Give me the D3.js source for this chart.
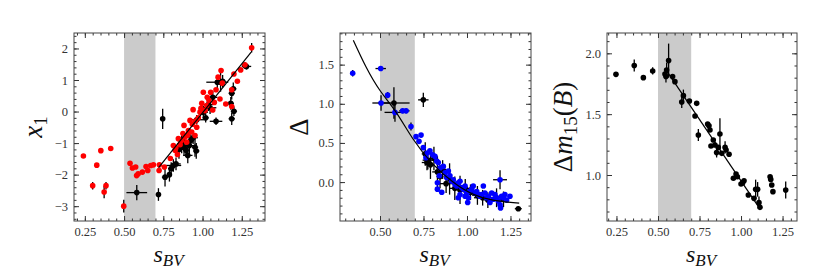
<!DOCTYPE html>
<html>
<head>
<meta charset="utf-8">
<script src="https://cdn.jsdelivr.net/npm/d3@7"></script>
<style>
  body { margin: 0; background: #fff; }
  svg text { font-family: "Liberation Serif", "Times New Roman", serif !important; }
  .tick text { font-size: 12.5px; fill: #333; }
  .tick line { stroke: #333; }
  .lab { fill: #111; }
</style>
</head>
<body>
<div id="chart"></div>
<script>
// panel 1: x1 vs sBV  [s, x1, ds, dx1]
var x1Red = [
  [0.241,-1.41],[0.30,-2.35,0,0.12],[0.326,-1.70],[0.352,-1.24],[0.373,-2.55,0,0.2],
  [0.385,-2.35,0,0.12],[0.415,-1.17],[0.498,-3.0,0,0.2],[0.538,-1.64],[0.553,-1.79],
  [0.574,-1.76],[0.58,-2.03],[0.59,-1.97],[0.617,-1.92],[0.64,-1.74],[0.651,-1.87],
  [0.67,-1.71],[0.687,-1.69],[0.725,-1.69],[0.723,-1.87],[0.757,-1.76],
  [0.795,-1.49],[0.814,-1.08],[0.825,-1.23],[0.84,-1.36],[0.846,-0.86],[0.857,-1.05],
  [0.882,-0.44],[0.889,-0.81],[0.899,-0.97],[0.91,-0.60],[0.92,-0.28],[0.931,-0.65],
  [0.94,0.06],[0.952,-0.76],[0.963,-0.50],[0.973,-0.20],[0.984,-0.02],[0.995,0.26],
  [1.005,0.61],[1.016,0.03],[1.027,0.19],[1.041,0.35],[1.052,0.61],[1.065,0.05],
  [1.075,0.29],[1.086,0.69],[1.099,1.09],[1.111,0.40],[1.118,1.30],[1.126,0.90],
  [1.148,0.24],[1.186,0.16],[1.186,0.69],[1.20,1.19],[1.222,0.96],[1.243,1.32],
  [1.27,1.48],[1.313,2.02,0.015,0.15],[0.83,-1.15],[0.865,-0.92],[0.875,-0.70],
  [0.905,-0.75],[0.935,-0.40],[0.955,-0.30],[0.99,0.10],[1.03,0.45]
];
var x1Black = [
  [0.581,-2.57,0.066,0.24],[0.719,-2.63,0.005,0.2],[0.746,-0.23,0.015,0.32],
  [0.761,-2.08,0.02,0.3],[0.789,-2.0,0.015,0.22],[0.80,-1.81,0.02,0.2],
  [0.814,-1.71,0.05,0.2],[0.831,-1.66,0.03,0.2],[0.85,-1.2,0.03,0.3],
  [0.867,-1.02,0.03,0.3],[0.875,-0.95,0.02,0.25],[0.882,-1.13,0.03,0.25],
  [0.895,-1.23,0.02,0.2],[0.906,-1.39,0.03,0.25],[0.916,-1.08,0.03,0.3],
  [0.925,-0.92,0.02,0.2],[0.94,-0.83,0.03,0.2],[0.952,-1.13,0.02,0.3],
  [0.96,-1.25,0.02,0.25],[0.963,-0.26,0.05,0.15],[1.005,-0.02,0.03,0.2],
  [1.02,-0.20,0.02,0.15],[1.037,0.22,0.03,0.2],[1.048,0.12,0.04,0.2],
  [1.065,0.45,0.03,0.2],[1.086,-0.31,0.04,0.12],[1.094,0.93,0.07,0.2],
  [1.115,0.93,0.02,0.3],[1.128,0.96,0.02,0.2],[1.18,0.26,0.02,0.2],
  [1.186,-0.23,0.02,0.2],[1.186,0.58,0.02,0.2],[1.196,0.72,0.02,0.2],
  [1.20,0.01,0.02,0.15],[1.27,1.46,0.02,0.1],[1.28,1.43,0.03,0.1]
];
var x1Fit = [[0.72,-1.78],[1.31,1.88]];

// panel 2: Delta vs sBV
var dBlue = [
  [0.343,1.39,0.01,0.04],[0.504,1.45,0.03,0.02],[0.544,1.11,0.01,0.04],[0.506,1.01,0.05,0.1],
  [0.586,0.89,0.06,0.12],[0.63,0.91,0.02,0.03],[0.65,0.91,0.02,0.03],[0.678,0.71,0.01,0.05],
  [0.707,0.58],[0.736,0.60],[0.724,0.52],[0.749,0.44],[0.764,0.31],[0.772,0.37],
  [0.787,0.40],[0.803,0.35],[0.816,0.33],[0.826,0.27],[0.835,0.25],[0.845,0.18],
  [0.864,0.20],[0.841,0.08],[0.874,0.12],[0.883,0.06],[0.893,0.14],[0.902,0.08],
  [0.912,0.01],[0.921,0.03],[0.931,-0.03],[0.941,-0.05],[0.95,-0.01],[0.96,0.01],
  [0.969,-0.07],[0.979,-0.09],[0.989,-0.05],[0.998,-0.14],[1.004,-0.26],[1.013,-0.12],
  [1.027,-0.09],[1.036,-0.05],[1.046,-0.14],[1.056,-0.12],[1.065,-0.16],[1.075,-0.18],
  [1.084,-0.16],[1.094,-0.05],[1.103,-0.14],[1.113,-0.20],[1.123,-0.18],[1.132,-0.26],
  [1.142,-0.14],[1.151,-0.22],[1.161,-0.16],[1.17,-0.20],[1.18,-0.24],[1.19,-0.29],
  [1.193,-0.33],[1.199,-0.18],[1.209,-0.20],[1.218,-0.16],[1.228,-0.23],[1.247,-0.18],
  [0.95,-0.20],[0.96,-0.16],[0.989,-0.18],[1.008,-0.20],[0.83,-0.01],[0.83,-0.09],
  [0.855,-0.13],[1.19,0.03,0.04,0.12]
];
var dBlack = [
  [0.58,1.01,0.09,0.2],[0.749,1.05,0.03,0.09],[0.76,0.36,0.02,0.15],[0.775,0.28,0.03,0.12],
  [0.79,0.22,0.02,0.18],[0.81,0.30,0.02,0.15],[0.83,0.13,0.03,0.2],[0.845,0.07,0.02,0.15],
  [0.86,0.16,0.02,0.12],[0.88,-0.02,0.04,0.12],[0.9,0.04,0.02,0.2],[0.93,-0.08,0.03,0.15],
  [0.96,-0.10,0.02,0.18],[0.99,-0.08,0.03,0.12],[1.02,-0.13,0.04,0.1],[1.06,-0.17,0.03,0.12],
  [1.09,-0.20,0.05,0.1],[1.12,-0.23,0.02,0.1],[1.17,-0.20,0.03,0.12],[1.21,-0.22,0.02,0.1],
  [1.295,-0.34,0.02,0.03],[0.77,0.25,0.03,0.1]
];
var dFit = [[0.347,1.81],[0.42,1.47],[0.5,1.17],[0.59,0.90],[0.69,0.55],[0.8,0.24],
  [0.92,0.0],[1.03,-0.15],[1.15,-0.23],[1.3,-0.27]];

// panel 3: dm15(B) vs sBV
var dmBlack = [
  [0.247,1.827],[0.357,1.90,0,0.05],[0.412,1.80],[0.468,1.855,0,0.03],[0.542,1.83],
  [0.552,1.863,0,0.06],[0.564,1.94,0,0.14],[0.548,1.81,0,0.05],[0.588,1.81],[0.602,1.767],
  [0.643,1.60,0,0.05],[0.653,1.652,0,0.05],[0.689,1.608],[0.733,1.589],[0.723,1.485],
  [0.743,1.329,0,0.05],[0.799,1.419],[0.807,1.405],[0.813,1.37],[0.819,1.238],
  [0.833,1.288],[0.843,1.247],[0.853,1.184,0,0.04],[0.873,1.337,0,0.13],[0.863,1.227],
  [0.884,1.178],[0.904,1.227,0,0.05],[0.91,1.205],[0.928,1.17],[0.954,0.973],
  [0.97,1.008],[0.978,0.986],[1.0,0.926],[1.01,0.937],[1.018,0.953],[1.044,0.836],
  [1.078,0.808],[1.088,0.882,0,0.08],[1.1,0.882,0,0.06],[1.108,0.773,0,0.05],
  [1.114,0.734],[1.175,0.986],[1.179,0.964],[1.185,0.918],[1.192,0.863],[1.269,0.877,0,0.07]
];
var dmFit = [[0.55,1.86],[1.115,0.72]];

var band = [0.5, 0.7];
var xTicks = [0.25, 0.5, 0.75, 1.0, 1.25];

var svg = d3.select("#chart").append("svg")
  .attr("width", 830).attr("height", 277);

function panel(opt) {
  var w = opt.w, h = 188;
  var g = svg.append("g").attr("transform", `translate(${opt.left},33)`);
  var x = d3.scaleLinear().domain(opt.xDom).range([0, w]);
  var y = d3.scaleLinear().domain(opt.yDom).range([h, 0]);

  g.append("rect")
    .attr("x", x(band[0])).attr("y", 0)
    .attr("width", x(band[1]) - x(band[0])).attr("height", h)
    .attr("fill", "#cbcbcb");

  var xMinor = d3.range(0.2, 1.45, 0.05).filter(v => v >= opt.xDom[0] && v <= opt.xDom[1]);
  var yMinor = d3.range(opt.yMinor[0], opt.yMinor[1], opt.yMinor[2]).filter(v => v >= opt.yDom[0] && v <= opt.yDom[1]);
  var xMaj = xTicks.filter(v => v >= opt.xDom[0]);

  // minor + major ticks on all four sides, pointing in
  [[d3.axisBottom, h, x, xMinor, 2.5, null], [d3.axisTop, 0, x, xMinor, 2.5, null],
   [d3.axisBottom, h, x, xMaj, 5, d3.format(".2f")], [d3.axisTop, 0, x, xMaj, 5, null]]
    .forEach(function(a) {
      g.append("g").attr("transform", `translate(0,${a[1]})`)
        .call(a[0](a[2]).tickValues(a[3]).tickSize(-a[4]).tickPadding(6)
          .tickFormat(a[5] || (() => "")))
        .call(s => s.select(".domain").remove());
    });
  [[d3.axisLeft, 0, yMinor, 2.5, null], [d3.axisRight, w, yMinor, 2.5, null],
   [d3.axisLeft, 0, opt.yTicks, 5, opt.yFmt], [d3.axisRight, w, opt.yTicks, 5, null]]
    .forEach(function(a) {
      g.append("g").attr("transform", `translate(${a[1]},0)`)
        .call(a[0](y).tickValues(a[2]).tickSize(-a[3]).tickPadding(6)
          .tickFormat(a[4] || (() => "")))
        .call(s => s.select(".domain").remove());
    });

  g.append("rect").attr("width", w).attr("height", h)
    .attr("fill", "none").attr("stroke", "#444").attr("stroke-width", 1);

  var pts = g.append("g");
  opt.series.forEach(function(sr) {
    sr.data.forEach(function(d) {
      if (d[2]) pts.append("line").attr("x1", x(d[0] - d[2])).attr("x2", x(d[0] + d[2]))
        .attr("y1", y(d[1])).attr("y2", y(d[1])).attr("stroke", "#000").attr("stroke-width", 1.3);
      if (d[3]) pts.append("line").attr("x1", x(d[0])).attr("x2", x(d[0]))
        .attr("y1", y(d[1] - d[3])).attr("y2", y(d[1] + d[3])).attr("stroke", "#000").attr("stroke-width", 1.3);
    });
  });
  opt.series.forEach(function(sr) {
    pts.selectAll(null).data(sr.data).enter().append("circle")
      .attr("cx", d => x(d[0])).attr("cy", d => y(d[1]))
      .attr("r", 2.8).attr("fill", sr.color);
  });

  g.append("path").datum(opt.fit)
    .attr("d", d3.line().x(d => x(d[0])).y(d => y(d[1])).curve(d3.curveNatural))
    .attr("fill", "none").attr("stroke", "#000").attr("stroke-width", 1.2);

  // x label s_BV
  var xl = g.append("text").attr("class", "lab")
    .attr("x", w / 2 - 16).attr("y", 229).attr("font-size", 24);
  xl.append("tspan").attr("font-style", "italic").text("s");
  xl.append("tspan").attr("font-style", "italic").attr("font-size", 17).attr("dy", 4).text("BV");

  // y label
  var yl = g.append("text").attr("class", "lab")
    .attr("transform", `translate(${opt.yLabX},${h / 2}) rotate(-90)`)
    .attr("text-anchor", "middle").attr("font-size", 27);
  opt.yLabel.forEach(function(p) {
    var t = yl.append("tspan").text(p.t);
    if (p.it) t.attr("font-style", "italic");
    if (p.sub) t.attr("font-size", 19).attr("dy", 5);
    if (p.up) t.attr("dy", -5);
  });
}

var minus = d => d3.format("")(d).replace("-", "\u2212");

panel({ left: 74, w: 191, xDom: [0.181, 1.398], yDom: [-3.47, 2.49],
  yTicks: [-3, -2, -1, 0, 1, 2], yMinor: [-3.4, 2.5, 0.2], yFmt: minus,
  series: [{ data: x1Black, color: "#000" }, { data: x1Red, color: "#ff0000" }],
  fit: x1Fit, yLabX: -32,
  yLabel: [{ t: "x", it: true }, { t: "1", sub: true }] });

panel({ left: 340, w: 191, xDom: [0.27, 1.368], yDom: [-0.497, 1.904],
  yTicks: [0, 0.5, 1.0, 1.5], yMinor: [-0.4, 1.95, 0.1], yFmt: d3.format(".1f"),
  series: [{ data: dBlack, color: "#000" }, { data: dBlue, color: "#0000ff" }],
  fit: dFit, yLabX: -32,
  yLabel: [{ t: "\u0394" }] });

panel({ left: 607, w: 190, xDom: [0.193, 1.337], yDom: [0.622, 2.167],
  yTicks: [1.0, 1.5, 2.0], yMinor: [0.7, 2.15, 0.1], yFmt: d3.format(".1f"),
  series: [{ data: dmBlack, color: "#000" }],
  fit: dmFit, yLabX: -35,
  yLabel: [{ t: "\u0394" }, { t: "m", it: true }, { t: "15", sub: true }, { t: "(", up: true }, { t: "B", it: true }, { t: ")" }] });
</script>
</body>
</html>
